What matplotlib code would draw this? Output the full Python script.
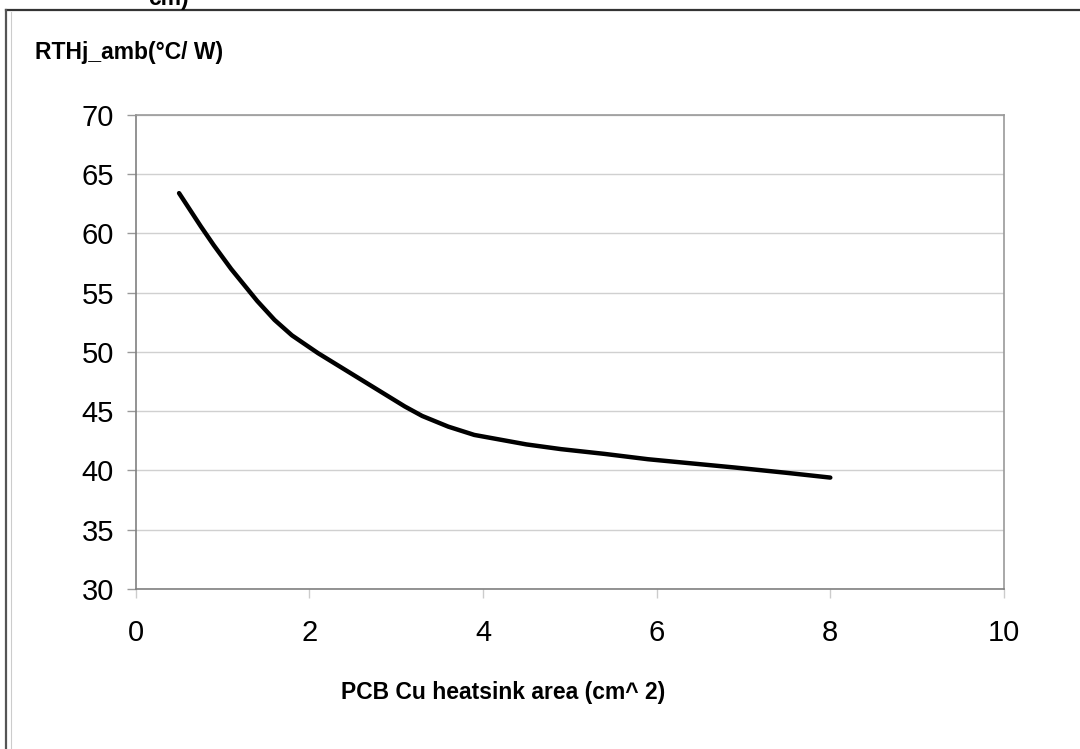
import matplotlib
matplotlib.use('Agg')
import matplotlib.pyplot as plt
from matplotlib.lines import Line2D

plt.rcParams['font.family'] = ['Liberation Sans', 'DejaVu Sans']

# PCB copper area (cm^2) vs junction-ambient thermal resistance (°C/W)
area = [0.5, 0.75, 0.9, 1.1, 1.4, 1.6, 1.8, 2.1, 2.5, 2.9, 3.1, 3.3, 3.6, 3.9,
        4.2, 4.5, 4.9, 5.4, 5.9, 6.4, 6.9, 7.5, 8.0]
rth = [63.4, 60.6, 59.0, 57.0, 54.3, 52.7, 51.4, 49.9, 48.1, 46.3, 45.4, 44.6,
       43.7, 43.0, 42.6, 42.2, 41.8, 41.4, 40.95, 40.6, 40.25, 39.8, 39.4]

x_ticks = [0, 2, 4, 6, 8, 10]
y_ticks = [30, 35, 40, 45, 50, 55, 60, 65, 70]

fig = plt.figure(figsize=(10.8, 7.49), dpi=100)
ax = fig.add_axes([0.1256, 0.2136, 0.804, 0.633])

ax.plot(area, rth, color='black', linewidth=3.2, solid_capstyle='round',
        solid_joinstyle='round')

ax.set_xlim(0, 10)
ax.set_ylim(30, 70)
ax.set_xticks(x_ticks)
ax.set_yticks(y_ticks)
ax.yaxis.grid(True, color='#d0d0d0', linewidth=1)
ax.set_axisbelow(True)

for s in ax.spines.values():
    s.set_color('#999999')
    s.set_linewidth(1.2)
ax.spines['left'].set_color('#808080')
ax.spines['bottom'].set_color('#808080')

ax.tick_params(axis='y', length=6.5, width=1, color='#999999', pad=9, labelsize=21)
ax.tick_params(axis='x', length=6.5, width=1, color='#cccccc', pad=15, labelsize=21)

fig.text(35 / 1080, 1 - 52 / 749, 'RTHj_amb(°C/ W)', fontsize=16.5, fontweight='bold',
         va='center', ha='left')
fig.text(503 / 1080, 1 - 692 / 749, 'PCB Cu heatsink area (cm^ 2)', fontsize=16.5,
         fontweight='bold', va='center', ha='center')

# remnant of text cut off at top of the page
fig.text(148 / 1080, 1 - 5 / 749, 'cm)', fontsize=16.5, fontweight='bold',
         va='baseline', ha='left')

# outer frame of the figure box
fig.add_artist(Line2D([6 / 1080, 1.0], [1 - 10 / 749, 1 - 10 / 749],
                      transform=fig.transFigure, color='#333333', linewidth=1.6))
fig.add_artist(Line2D([6 / 1080, 6 / 1080], [0, 1 - 10 / 749],
                      transform=fig.transFigure, color='#555555', linewidth=1.6))
fig.add_artist(Line2D([11 / 1080, 11 / 1080], [0, 1 - 12 / 749],
                      transform=fig.transFigure, color='#cccccc', linewidth=0.8))

fig.savefig('out.png', dpi=100)
